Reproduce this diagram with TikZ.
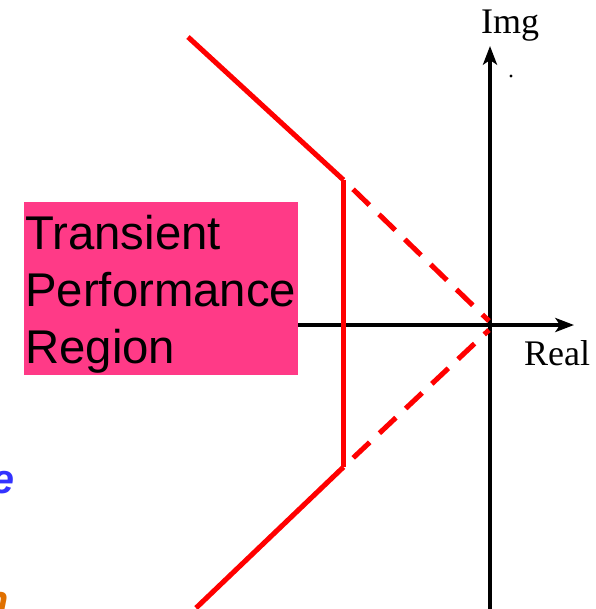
\documentclass[tikz,border=0pt]{standalone}
\usepackage{fontspec}
\setmainfont{Liberation Serif}
\setsansfont{Liberation Sans}
\usetikzlibrary{arrows.meta}
\definecolor{boxpink}{HTML}{FF3A87}
\definecolor{fragblue}{HTML}{3333FF}
\definecolor{fragorange}{HTML}{E07000}
\begin{document}
\begin{tikzpicture}[x=0.75pt,y=-0.75pt,
  axis/.style={line width=3.6pt,-{Stealth[length=14pt,width=10.5pt,inset=3.5pt]}},
  redline/.style={red,line width=3.8pt},
  reddash/.style={red,line width=3.8pt,dash pattern=on 17pt off 10pt,dash phase=17pt},
  lbl/.style={font=\fontsize{27}{30}\selectfont,inner sep=0pt},
  boxtext/.style={anchor=base west,inner sep=0pt,font=\sffamily\fontsize{35.5}{42}\selectfont}]
\useasboundingbox (0,0) rectangle (595,609);
\begin{scope}
\clip (0,0) rectangle (595,609);
% fragments at left edge
\node[anchor=base east,inner sep=0pt,text=fragblue,font=\sffamily\bfseries\itshape\fontsize{31}{34}\selectfont] (fragA) at (15,493) {e};
\node[anchor=base east,inner sep=0pt,text=fragorange,font=\sffamily\bfseries\itshape\fontsize{31}{34}\selectfont] (fragB) at (9,614) {n};
% axes
\coordinate (ybot) at (490,612);
\coordinate (ytop) at (490,46);
\coordinate (xleft) at (298,325);
\coordinate (xright) at (574,325);
\draw[axis] (ybot) -- (ytop);
\draw[axis] (xleft) -- (xright);
% red region lines
\coordinate (tl) at (188,37);
\coordinate (ct) at (343.5,180);
\coordinate (cb) at (343.5,467);
\coordinate (bl) at (196,608);
\coordinate (o1) at (489,321);
\coordinate (o2) at (489,330);
\draw[redline] (tl) -- (ct);
\draw[redline] (ct) -- (cb);
\draw[redline] (cb) -- (bl);
\draw[reddash] (ct) -- (o1);
\draw[reddash] (cb) -- (o2);
% box
\node[fill=boxpink,minimum width=274*0.75pt,minimum height=173*0.75pt,anchor=north west,inner sep=0pt] (box) at (24,202) {};
\node[boxtext] (t1) at (25,250) {Transient};
\node[boxtext] (t2) at (25,306) {Performance};
\node[boxtext] (t3) at (25,363) {Region};
% labels
\node[lbl,anchor=base] (img) at (510,34) {Img};
\node[lbl,anchor=base] (real) at (557,365) {Real};
\fill (511,76) circle (1.3pt);
\end{scope}
\end{tikzpicture}
\end{document}
